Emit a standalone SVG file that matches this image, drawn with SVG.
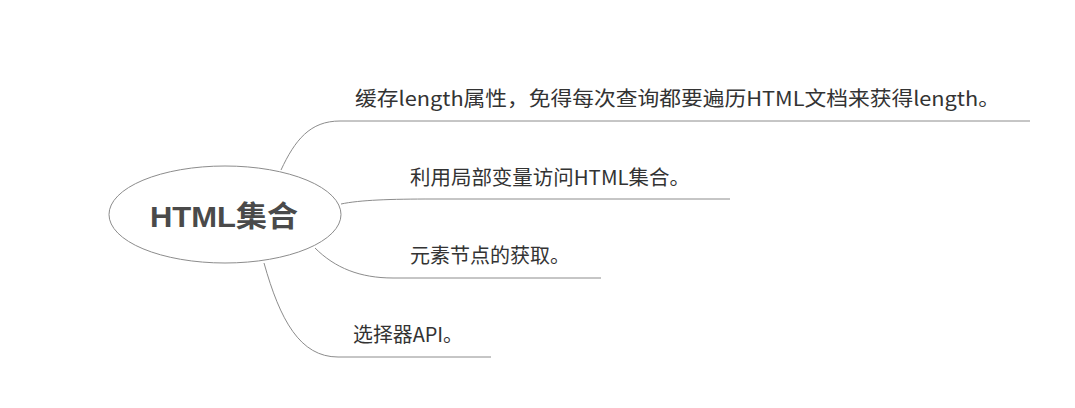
<svg xmlns="http://www.w3.org/2000/svg" width="1075" height="408" viewBox="0 0 1075 408">
<style>
.bg{fill:#ffffff}
.ln{fill:none;stroke:#8c8c8c;stroke-width:1}
.t{font-family:"Noto Sans CJK SC","Microsoft YaHei",sans-serif;font-size:20px;fill:#333333}
.c{font-family:"Liberation Sans","Noto Sans CJK SC",sans-serif;font-size:29px;font-weight:bold;fill:#4a4a4a}
</style>
<rect class="bg" x="0" y="0" width="1075" height="408"/>
<g id="connectors">
<path class="ln" d="M281,170 C295,140 310,121 340,121 L1030,121"/>
<path class="ln" d="M341,204 C360,200 390,199 433,199 L730,199"/>
<path class="ln" d="M315,248 C335,268 360,278 393,278 L601,278"/>
<path class="ln" d="M264,263 C280,320 300,357 338,357 L491,357"/>
</g>
<g id="root">
<ellipse cx="225" cy="214.5" rx="116" ry="48.5" fill="#ffffff" stroke="#8c8c8c" stroke-width="1"/>
<text class="c" x="150" y="227" textLength="148" lengthAdjust="spacingAndGlyphs">HTML集合</text>
</g>
<g id="n1"><text class="t" x="355" y="106" textLength="645" lengthAdjust="spacingAndGlyphs">缓存length属性，免得每次查询都要遍历HTML文档来获得length。</text></g>
<g id="n2"><text class="t" x="410" y="185" textLength="280" lengthAdjust="spacingAndGlyphs">利用局部变量访问HTML集合。</text></g>
<g id="n3"><text class="t" x="410" y="263">元素节点的获取。</text></g>
<g id="n4"><text class="t" x="353" y="342" textLength="110" lengthAdjust="spacingAndGlyphs">选择器API。</text></g>
</svg>
